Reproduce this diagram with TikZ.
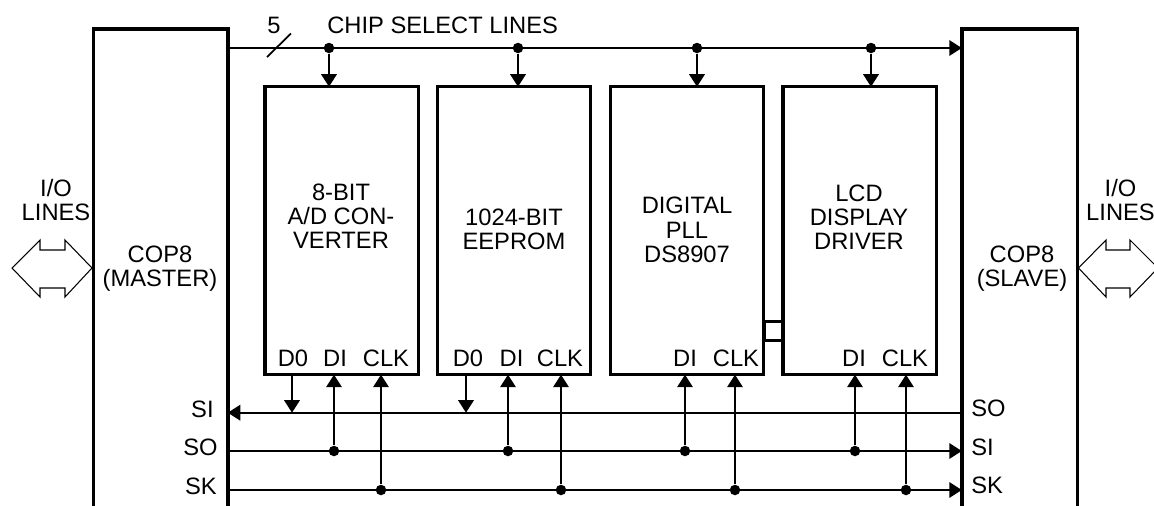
\documentclass[tikz,border=0pt]{standalone}
\usepackage{fontspec}
\setmainfont{Liberation Sans}
\usetikzlibrary{positioning,arrows.meta}
\tikzset {
    wall box/.style={
        draw=black,
        line width=2pt,
        rectangle,
        outer sep=0pt,
        inner sep=0pt,
        minimum width=#1,
        minimum height=10.2cm,
        anchor=north west,
    },
    chip box/.style={
        draw=black,
        line width=2pt,
        rectangle,
        outer sep=0pt,
        inner sep=0pt,
        minimum width=3.066cm,
        minimum height=5.76cm,
    },
    link box/.style={
        draw=black,
        line width=2pt,
        rectangle,
        outer sep=0pt,
        inner sep=0pt,
        minimum width=.374cm,
        minimum height=.388cm,
    },
    dot/.style={
        circle,
        fill=black,
        inner sep=0pt,
        minimum size=.21cm,
    },
    bus/.style={draw=black, line width=1pt},
    bus arrow/.style={bus, -{Triangle[length=2.5mm,width=3.1mm]}},
    tag/.style={align=center, inner sep=0pt},
    io arrow/.style={draw=black, line width=.6pt, fill=white},
}

\begin{document}
\begin{tikzpicture}
[x=.02cm, y=-.02cm, font=\fontsize{13.5}{13.8}\selectfont]
\useasboundingbox (0,0) rectangle (1154,505);
\clip (0,0) rectangle (1154,505);

\node[wall box=2.684cm] at (93.6,29) (master) {};
\node[wall box=2.312cm] at (961.8,29) (slave) {};
\node[chip box] at (341.7,230.7) (chipA) {};
\node[chip box] at (514,230.7) (chipB) {};
\node[chip box] at (687,230.7) (chipC) {};
\node[chip box] at (859.7,230.7) (chipD) {};
\node[link box] at (773.4,331) (link) {};

\node[tag] at (160,269) (masterText) {COP8\\(MASTER)};
\node[tag] at (1022,269) (slaveText) {COP8\\(SLAVE)};
\node[tag] at (341,216) (chipAText) {8-BIT\\A/D CON-\\VERTER};
\node[tag] at (514,229) (chipBText) {1024-BIT\\EEPROM};
\node[tag] at (687,230) (chipCText) {DIGITAL\\PLL\\DS8907};
\node[tag] at (859,217) (chipDText) {LCD\\DISPLAY\\DRIVER};
\node[tag] at (56,200) (ioLeft) {I/O\\LINES};
\node[tag] at (1120.5,200) (ioRight) {I/O\\LINES};
\node[tag] at (274,25) (busWidth) {5};
\node[tag, anchor=west] at (327,25) (chipSelect) {CHIP SELECT LINES};

\node[tag] at (293,358) (pinDA) {D0};
\node[tag] at (335,358) (pinIA) {DI};
\node[tag] at (386,358) (pinKA) {CLK};
\node[tag] at (468,358) (pinDB) {D0};
\node[tag] at (511.5,358) (pinIB) {DI};
\node[tag] at (560,358) (pinKB) {CLK};
\node[tag] at (685,358) (pinIC) {DI};
\node[tag] at (736,358) (pinKC) {CLK};
\node[tag] at (854,358) (pinID) {DI};
\node[tag] at (905,358) (pinKD) {CLK};

\node[tag, anchor=east] at (214,409) (masterSI) {SI};
\node[tag, anchor=east] at (218,447) (masterSO) {SO};
\node[tag, anchor=east] at (217,486) (masterSK) {SK};
\node[tag, anchor=west] at (971,408) (slaveSO) {SO};
\node[tag, anchor=west] at (971,447) (slaveSI) {SI};
\node[tag, anchor=west] at (971,485.5) (slaveSK) {SK};

% chip select taps
\node[dot] at (329,48) (csA) {};
\node[dot] at (518,48) (csB) {};
\node[dot] at (697,48) (csC) {};
\node[dot] at (871,48) (csD) {};
% serial taps
\coordinate (doA) at (292,412.7);
\coordinate (doB) at (466,412.7);
\node[dot] at (334,451) (soA) {};
\node[dot] at (508,451) (soB) {};
\node[dot] at (685,451) (soC) {};
\node[dot] at (855,451) (soD) {};
\node[dot] at (381,490) (skA) {};
\node[dot] at (561,490) (skB) {};
\node[dot] at (735,490) (skC) {};
\node[dot] at (906,490) (skD) {};

\draw[bus arrow] (master.north east |- csA) -- (slave.north west |- csA);
\draw[bus arrow] (slave.north west |- doA) -- (master.north east |- doA);
\draw[bus arrow] (master.north east |- soA) -- (slave.north west |- soA);
\draw[bus arrow] (master.north east |- skA) -- (slave.north west |- skA);

\draw[bus arrow] (csA) -- (csA |- chipA.north);
\draw[bus arrow] (csB) -- (csB |- chipB.north);
\draw[bus arrow] (csC) -- (csC |- chipC.north);
\draw[bus arrow] (csD) -- (csD |- chipD.north);
\draw[bus arrow] (doA |- chipA.south) -- (doA);
\draw[bus arrow] (doB |- chipB.south) -- (doB);
\draw[bus arrow] (soA) -- (soA |- chipA.south);
\draw[bus arrow] (soB) -- (soB |- chipB.south);
\draw[bus arrow] (soC) -- (soC |- chipC.south);
\draw[bus arrow] (soD) -- (soD |- chipD.south);
\draw[bus arrow] (skA) -- (skA |- chipA.south);
\draw[bus arrow] (skB) -- (skB |- chipB.south);
\draw[bus arrow] (skC) -- (skC |- chipC.south);
\draw[bus arrow] (skD) -- (skD |- chipD.south);

% width mark on the select bus
\coordinate (markLow) at (267,57);
\coordinate (markHigh) at (291,33.5);
\draw[bus] (markLow) -- (markHigh);

% I/O arrows
\draw[io arrow] (12,268) -- (40,240) -- (40,250) -- (65,250) -- (65,240) -- (92,268)
    -- (65,297) -- (65,288) -- (40,288) -- (40,297) -- cycle;
\draw[io arrow] (1078.5,268) -- (1106,240) -- (1106,250) -- (1130,250) -- (1130,240) -- (1158,268)
    -- (1130,297) -- (1130,288) -- (1106,288) -- (1106,297) -- cycle;
\end{tikzpicture}
\end{document}
